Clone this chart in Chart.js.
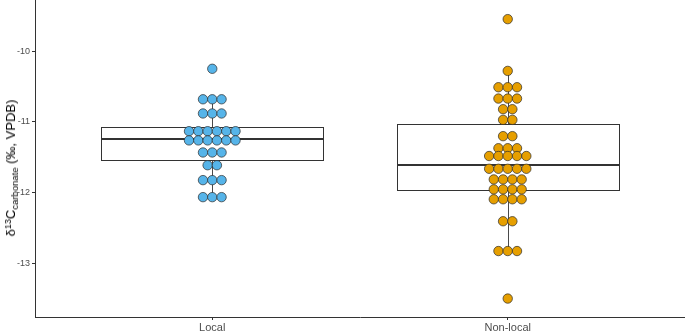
<!DOCTYPE html>
<html><head><meta charset="utf-8">
<script src="https://cdn.jsdelivr.net/npm/chart.js@4"></script>
<style>
html,body{margin:0;padding:0;background:#fff;}
#wrap{position:relative;width:685px;height:331px;overflow:hidden;}
#ytitle{position:absolute;left:11px;top:168px;transform:translate(-50%,-50%) rotate(-90deg);white-space:nowrap;font-family:'Liberation Sans',Arial,sans-serif;font-size:13px;color:#000;line-height:14px;}
#ytitle sup{font-size:9px;vertical-align:0.5em;line-height:0;}
#ytitle sub{font-size:9.5px;vertical-align:-0.3em;line-height:0;}
</style></head>
<body>
<div id="wrap">
<canvas id="c" width="685" height="331"></canvas>
<div id="ytitle">δ<sup>13</sup>C<sub>carbonate</sub> (‰, VPDB)</div>
</div>
<script>
const categories = ['Local', 'Non-local'];
const localValues = [-10.25,
  -10.68,-10.68,-10.68,
  -10.88,-10.88,-10.88,
  -11.13,-11.13,-11.13,-11.13,-11.13,-11.13,
  -11.26,-11.26,-11.26,-11.26,-11.26,-11.26,
  -11.43,-11.43,-11.43,
  -11.61,-11.61,
  -11.82,-11.82,-11.82,
  -12.06,-12.06,-12.06];
const nonLocalValues = [-9.55,
  -10.28,
  -10.51,-10.51,-10.51,
  -10.67,-10.67,-10.67,
  -10.82,-10.82,
  -10.97,-10.97,
  -11.20,-11.20,
  -11.37,-11.37,-11.37,
  -11.48,-11.48,-11.48,-11.48,-11.48,
  -11.66,-11.66,-11.66,-11.66,-11.66,
  -11.81,-11.81,-11.81,-11.81,
  -11.95,-11.95,-11.95,-11.95,
  -12.09,-12.09,-12.09,-12.09,
  -12.40,-12.40,
  -12.82,-12.82,-12.82,
  -13.49];
const boxQ1 = [-11.53, -11.96];
const boxMedian = [-11.24, -11.61];
const boxQ3 = [-11.07, -11.035];
const whiskerLow = [-12.06, -12.82];
const whiskerHigh = [-10.68, -10.28];
const yTicks = [-10, -11, -12, -13];

const FONT = "'Liberation Sans', Arial, sans-serif";
const DOT_STEP = 0.0315;   // horizontal spacing of stacked dots (x units)
const BOX_WIDTH = 0.75;

function stackDots(values, center) {
  const groups = new Map();
  values.forEach(v => { groups.set(v, (groups.get(v) || 0) + 1); });
  const pts = [];
  groups.forEach((n, v) => {
    for (let i = 0; i < n; i++) pts.push({ x: center + (i - (n - 1) / 2) * DOT_STEP, y: v });
  });
  return pts;
}

const boxPlugin = {
  id: 'boxes',
  beforeDatasetsDraw(chart) {
    const { ctx, scales: { x, y } } = chart;
    ctx.save();
    categories.forEach((c, i) => {
      const cx = Math.round(x.getPixelForValue(i + 1)) + 0.5;
      const xl = Math.round(x.getPixelForValue(i + 1 - BOX_WIDTH / 2)) + 0.5;
      const xr = Math.round(x.getPixelForValue(i + 1 + BOX_WIDTH / 2)) + 0.5;
      const yq1 = Math.round(y.getPixelForValue(boxQ1[i])) + 0.5;
      const yq3 = Math.round(y.getPixelForValue(boxQ3[i])) + 0.5;
      const ymed = Math.round(y.getPixelForValue(boxMedian[i]));
      const ylo = y.getPixelForValue(whiskerLow[i]);
      const yhi = y.getPixelForValue(whiskerHigh[i]);
      ctx.strokeStyle = '#4a4a4a';
      ctx.lineWidth = 1;
      ctx.beginPath();
      ctx.moveTo(cx, yq3); ctx.lineTo(cx, yhi);
      ctx.moveTo(cx, yq1); ctx.lineTo(cx, ylo);
      ctx.stroke();
      ctx.fillStyle = '#fff';
      ctx.fillRect(xl, yq3, xr - xl, yq1 - yq3);
      ctx.strokeStyle = '#333';
      ctx.strokeRect(xl, yq3, xr - xl, yq1 - yq3);
      ctx.lineWidth = 2;
      ctx.beginPath();
      ctx.moveTo(xl, ymed); ctx.lineTo(xr, ymed);
      ctx.stroke();
    });
    ctx.restore();
  }
};

const dotStyle = { borderColor: '#2b2b2b', borderWidth: 0.7, pointRadius: 4.7, pointHoverRadius: 4.7 };

function zeroPad(s) { s.paddingTop = 0; s.paddingBottom = 0; s.paddingLeft = 0; s.paddingRight = 0; }

new Chart(document.getElementById('c'), {
  type: 'scatter',
  data: {
    datasets: [
      Object.assign({ label: categories[0], data: stackDots(localValues, 1), backgroundColor: '#56B4E9' }, dotStyle),
      Object.assign({ label: categories[1], data: stackDots(nonLocalValues, 2), backgroundColor: '#E69F00' }, dotStyle)
    ]
  },
  options: {
    responsive: false,
    animation: false,
    events: [],
    layout: { padding: 0, autoPadding: false },
    plugins: { legend: { display: false }, tooltip: { enabled: false } },
    scales: {
      x: {
        type: 'linear', min: 0.4, max: 2.6,
        afterBuildTicks: s => { s.ticks = categories.map((c, i) => ({ value: i + 1 })); },
        afterFit: s => { s.height = 14; zeroPad(s); },
        ticks: { callback: v => categories[v - 1], font: { family: FONT, size: 11 }, color: '#4d4d4d', padding: 1, maxRotation: 0, autoSkip: false },
        grid: { display: true, drawOnChartArea: false, drawTicks: true, tickLength: 3, color: '#333' },
        border: { display: true, color: '#333', width: 1 }
      },
      y: {
        type: 'linear', min: -13.75, max: -9.28,
        afterBuildTicks: s => { s.ticks = yTicks.map(v => ({ value: v })); },
        afterFit: s => { s.width = 35; zeroPad(s); },
        ticks: { callback: v => String(v), font: { family: FONT, size: 9 }, color: '#4d4d4d', padding: 2 },
        grid: { display: true, drawOnChartArea: false, drawTicks: true, tickLength: 3, color: '#333' },
        border: { display: true, color: '#333', width: 1 }
      }
    }
  },
  plugins: [boxPlugin]
});
</script>
</body></html>
